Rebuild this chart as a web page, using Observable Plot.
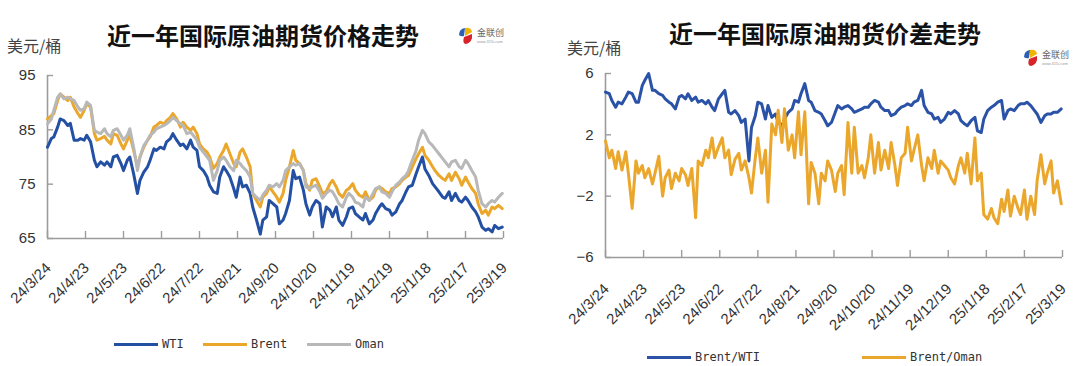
<!DOCTYPE html>
<html><head><meta charset="utf-8">
<script src="https://cdn.jsdelivr.net/npm/d3@7"></script>
<script src="https://cdn.jsdelivr.net/npm/@observablehq/plot@0.6"></script>
<style>
body{margin:0;background:#fff;width:1080px;height:366px;overflow:hidden;position:relative;font-family:"Noto Sans CJK SC",sans-serif;}
.abs{position:absolute;}
.title{position:absolute;font-size:24px;line-height:24px;font-weight:700;color:#111;white-space:nowrap;transform:translateX(-50%);}
.unit{position:absolute;font-size:16px;line-height:18px;color:#444;white-space:nowrap;}
.leg{position:absolute;font-family:"DejaVu Sans Mono",monospace;font-size:12px;line-height:14px;color:#333;display:flex;align-items:center;white-space:nowrap;}
.sw{display:inline-block;width:44px;height:3px;margin-right:4px;}
.logo{position:absolute;}
</style>
</head><body>
<div id="root"></div>
<script>
// ---------- data ----------
const dates = ["2024-03-24","2024-03-27","2024-03-29","2024-04-01","2024-04-03","2024-04-06","2024-04-09","2024-04-11","2024-04-14","2024-04-17",
"2024-04-19","2024-04-22","2024-04-24","2024-04-27","2024-04-30","2024-05-02","2024-05-05","2024-05-08","2024-05-10","2024-05-13",
"2024-05-15","2024-05-18","2024-05-21","2024-05-23","2024-05-26","2024-05-28","2024-05-31","2024-06-03","2024-06-05","2024-06-08",
"2024-06-11","2024-06-13","2024-06-16","2024-06-18","2024-06-21","2024-06-24","2024-06-26","2024-06-29","2024-07-01","2024-07-04",
"2024-07-07","2024-07-09","2024-07-12","2024-07-15","2024-07-17","2024-07-20","2024-07-22","2024-07-25","2024-07-28","2024-07-30",
"2024-08-02","2024-08-05","2024-08-07","2024-08-10","2024-08-12","2024-08-15","2024-08-18","2024-08-20","2024-08-23","2024-08-25",
"2024-08-28","2024-08-31","2024-09-02","2024-09-05","2024-09-08","2024-09-10","2024-09-13","2024-09-15","2024-09-18","2024-09-21",
"2024-09-23","2024-09-26","2024-09-28","2024-10-01","2024-10-04","2024-10-06","2024-10-09","2024-10-12","2024-10-14","2024-10-17",
"2024-10-19","2024-10-22","2024-10-25","2024-10-27","2024-10-30","2024-11-02","2024-11-04","2024-11-07","2024-11-09","2024-11-12",
"2024-11-15","2024-11-17","2024-11-20","2024-11-22","2024-11-25","2024-11-28","2024-11-30","2024-12-03","2024-12-06","2024-12-08",
"2024-12-11","2024-12-13","2024-12-16","2024-12-19","2024-12-21","2024-12-24","2024-12-27","2024-12-29","2025-01-01","2025-01-03",
"2025-01-06","2025-01-09","2025-01-11","2025-01-14","2025-01-16","2025-01-19","2025-01-22","2025-01-24","2025-01-27","2025-01-30",
"2025-02-01","2025-02-04","2025-02-06","2025-02-09","2025-02-12","2025-02-14","2025-02-17","2025-02-19","2025-02-22","2025-02-25",
"2025-02-27","2025-03-02","2025-03-05","2025-03-07","2025-03-10","2025-03-12","2025-03-15","2025-03-18"];

const wti = [81.8,83.4,83.7,85.5,87.0,86.7,85.8,86.2,83.1,83.1,83.4,83.1,84.0,82.8,79.4,78.2,79.1,78.5,79.1,78.2,
80.0,80.3,78.8,77.5,79.4,80.0,76.9,73.3,75.7,77.2,78.2,79.4,81.5,81.2,81.8,81.5,82.8,83.4,84.3,83.1,
82.1,82.4,81.5,83.1,81.8,81.2,78.2,77.5,76.3,74.8,73.6,73.3,76.3,78.2,77.5,76.3,74.2,72.6,76.3,74.5,
74.8,73.3,70.8,68.4,65.8,68.4,69.0,
72.0,71.4,70.8,67.7,68.4,69.6,72.0,77.5,76.0,76.3,73.9,71.4,69.3,70.8,72.0,71.4,67.1,70.8,70.2,69.0,
70.8,68.4,67.4,69.0,70.5,70.8,69.6,69.0,68.4,69.6,67.7,68.4,69.6,70.8,71.4,70.5,70.2,69.3,69.9,71.4,
72.0,73.6,74.5,74.8,76.9,78.2,80.0,77.8,76.6,75.1,74.5,73.6,72.6,72.4,73.6,72.0,73.3,72.0,71.7,72.6,
72.0,70.8,69.9,69.0,67.1,66.5,66.8,66.2,67.4,66.8,67.1];

const brent = [87.0,87.6,88.0,90.4,91.6,91.0,90.4,91.0,89.2,88.0,87.3,88.6,89.8,89.2,84.3,83.1,83.4,83.8,83.1,82.4,
84.3,84.0,82.4,81.5,83.1,84.0,81.2,78.2,80.0,81.8,83.1,83.7,85.5,85.8,86.4,86.1,86.7,87.3,88.0,87.0,
85.5,86.4,85.5,84.9,85.5,84.3,82.4,81.5,80.9,80.0,77.9,78.8,80.0,81.2,82.4,80.6,78.8,78.2,80.9,81.5,
80.0,78.2,73.3,72.0,70.8,72.6,73.3,
74.5,73.6,72.6,71.7,73.3,75.7,78.2,81.2,79.4,78.8,77.5,75.1,73.9,75.7,76.0,74.5,73.3,73.6,75.1,75.7,
74.5,73.3,72.6,73.9,74.2,75.1,73.9,73.0,72.6,73.6,72.0,72.6,73.9,74.5,74.2,73.6,73.3,74.2,74.5,75.1,
75.7,76.3,76.6,78.2,79.7,80.6,81.8,80.3,79.4,78.2,77.5,76.6,76.0,75.7,76.9,75.7,77.2,76.0,74.8,76.3,
75.4,74.2,73.3,71.4,69.6,70.2,69.3,70.8,70.5,71.1,70.5];

const oman = [86.1,87.0,88.6,91.0,91.6,90.7,91.0,90.7,90.4,89.2,88.6,88.9,90.1,89.5,84.9,84.6,84.3,85.2,84.3,83.7,
84.9,85.2,84.0,83.1,84.0,85.2,81.8,77.5,80.0,82.1,83.1,84.0,84.6,85.2,85.5,85.8,86.1,86.7,87.3,86.7,
86.1,85.8,84.3,84.6,84.0,83.1,81.8,80.9,80.0,79.4,75.7,77.5,79.4,80.0,79.4,78.2,77.5,79.4,78.8,78.2,
77.5,76.3,73.3,72.6,72.0,73.0,73.9,
74.8,74.5,75.1,74.5,75.7,77.5,78.2,78.8,78.5,78.8,77.5,74.5,74.2,74.5,74.8,73.6,72.4,73.3,73.9,73.6,
72.4,71.4,70.8,72.6,73.3,72.6,71.7,71.4,70.8,72.6,72.0,73.3,74.2,74.5,73.6,73.3,72.6,73.6,74.8,75.4,
76.0,76.6,77.5,79.4,81.2,83.1,84.9,84.3,82.8,82.1,81.5,80.6,79.7,79.1,78.2,79.1,79.4,78.2,77.9,79.4,
78.8,77.5,76.3,73.9,71.4,70.8,71.4,72.0,71.7,72.6,73.3];

const brentWti = [4.79,4.68,4.24,3.80,4.13,4.02,4.46,4.79,4.68,4.13,4.13,5.23,5.56,6.00,4.90,4.90,4.68,4.57,4.35,4.13,
4.02,3.69,4.46,4.57,4.35,4.68,4.24,4.46,4.13,4.24,4.02,4.24,3.80,3.58,4.35,4.68,4.90,3.47,3.36,3.58,
3.25,2.81,3.03,0.30,2.48,3.25,4.13,4.02,3.03,3.91,3.14,3.36,2.81,2.59,3.03,3.47,3.69,4.24,4.13,4.68,
5.34,4.24,4.13,3.58,
3.47,3.36,2.92,2.59,2.81,3.47,3.91,3.69,3.80,3.91,3.69,3.47,3.58,3.69,3.80,3.80,4.02,4.24,4.13,3.80,
3.58,3.58,3.25,3.36,3.58,3.80,3.91,4.02,3.91,4.13,4.24,4.90,3.91,3.47,3.36,3.03,3.14,2.81,3.03,3.47,
3.36,3.58,3.36,2.92,2.70,2.59,2.92,3.14,2.26,2.15,3.03,3.58,3.80,3.91,4.13,4.24,3.03,3.58,3.69,3.58,
3.91,4.02,4.02,4.13,3.91,3.58,3.36,2.81,3.25,3.36,3.36,3.47,3.47,3.69];

const brentOman = [1.6,0.5,1.0,-0.2,0.9,-0.3,0.9,-0.5,-2.8,0.3,-0.5,0.0,-0.8,-0.2,-1.2,-0.5,0.6,-2.0,-0.8,-0.3,
-1.5,-0.5,-1.0,-0.2,-0.6,-1.3,-0.2,-3.4,0.3,0.0,1.0,0.5,1.8,0.5,1.2,1.8,0.5,1.0,-0.6,0.4,
0.8,-0.3,0.3,-0.8,-1.8,0.5,1.8,-0.5,1.0,-2.4,2.7,2.0,3.6,1.5,3.7,1.0,2.0,0.5,3.5,0.7,
3.5,-2.5,0.2,-0.5,
-2.5,-0.5,-1.0,0.3,-0.3,-1.7,-0.5,0.0,-1.9,2.8,-0.5,2.5,-0.5,0.0,-0.8,0.5,2.0,-0.5,1.5,-0.3,
1.0,-0.2,1.5,0.0,-1.3,0.5,0.8,2.5,0.3,1.0,2.0,0.0,-1.0,0.5,-0.2,1.0,-0.5,0.3,0.0,-0.3,
-0.8,-1.2,0.0,0.5,-0.5,0.8,-1.2,1.8,-1.0,-0.5,-3.2,-3.5,-2.8,-3.4,-3.8,-2.2,-3.0,-1.6,-3.3,-2.0,
-2.8,-3.2,-1.6,-3.5,-2.0,-3.2,-1.0,0.7,-1.2,-0.5,0.3,-1.8,-1.0,-2.5];

const tickDates = ["2024-03-24","2024-04-23","2024-05-23","2024-06-22","2024-07-22","2024-08-21","2024-09-20",
"2024-10-20","2024-11-19","2024-12-19","2025-01-18","2025-02-17","2025-03-19"];
const tickLabels = ["24/3/24","24/4/23","24/5/23","24/6/22","24/7/22","24/8/21","24/9/20",
"24/10/20","24/11/19","24/12/19","25/1/18","25/2/17","25/3/19"];
const priceTicks = [65,75,85,95];
const spreadTicks = [-6,-2,2,6];
const priceSeries = ["WTI","Brent","Oman"];
const spreadSeries = ["Brent/WTI","Brent/Oman"];
const titles = ["近一年国际原油期货价格走势","近一年国际原油期货价差走势"];
const unitText = "美元/桶";

// ---------- helpers ----------
const parse = d3.utcParse("%Y-%m-%d");
const X = dates.map(parse);
const TX = tickDates.map(parse);
const table = (vals) => vals.map((v,i)=>({date:X[i], value:v}));
const AX = "#9c9c9c";

function chart({series, colors, yDomain, yTicks, ml, mr, mt, mb, ldy}) {
  const W = 540, H = 330;
  const iw = W - ml - mr, ih = H - mt - mb;
  const marks = [
    Plot.ruleY([yDomain[0]], {stroke:AX, strokeWidth:1.6}),
    Plot.ruleX([TX[0]], {stroke:AX, strokeWidth:1.6}),
    Plot.ruleX(TX, {stroke:AX, strokeWidth:1.4, insetTop: ih - 7}),
    Plot.ruleY(yTicks, {stroke:AX, strokeWidth:1.4, insetRight: iw - 6}),
    Plot.axisY({ticks:yTicks, tickSize:0, tickPadding:12, fontSize:15, label:null}),
    Plot.text(TX, {x:d=>d, frameAnchor:"bottom", text:(d,i)=>tickLabels[i], rotate:-45, textAnchor:"end", lineAnchor:"middle", dy:ldy, dx:1, fontSize:15, fill:"#333"})
  ];
  series.forEach((s,k)=>{
    marks.push(Plot.lineY(table(s), {x:"date", y:"value", stroke:colors[k], strokeWidth:3, strokeLinejoin:"round", strokeLinecap:"round"}));
  });
  const svg = Plot.plot({
    width:W, height:H, marginLeft:ml, marginRight:mr, marginTop:mt, marginBottom:mb,
    x:{type:"utc", domain:[TX[0], TX[TX.length-1]], axis:null},
    y:{domain:yDomain, axis:null},
    style:{fontFamily:"'Liberation Sans', Arial, sans-serif", color:"#333", background:"transparent", overflow:"visible"},
    marks
  });
  svg.style.position = "absolute";
  svg.style.left = "0px";
  svg.style.top = "0px";
  return svg;
}

const root = document.getElementById("root");
function panel(left){ const p = document.createElement("div"); p.className="abs"; p.style.left=left+"px"; p.style.top="0px"; p.style.width="540px"; p.style.height="366px"; root.appendChild(p); return p; }
function el(parent, cls, css, html){ const e=document.createElement("div"); e.className=cls; Object.assign(e.style, css); e.innerHTML=html; parent.appendChild(e); return e; }
function logo(parent, left, top){
  el(parent, "logo", {left:left+"px", top:top+"px"},
  `<svg width="52" height="20" viewBox="0 0 52 20">
    <path d="M2 9 Q2 3 8 2 L7 10 Q4 11 2 9Z" fill="#2d5fb5"/>
    <path d="M8 2 Q14 1 15 6 L8 10Z" fill="#f0b400"/>
    <path d="M7 11 L15 8 Q16 16 9 18 Q5 18 7 11Z" fill="#d8232a"/>
    <text x="20" y="10" font-size="9" fill="#666" font-family="Noto Sans CJK SC">金联创</text>
    <text x="20" y="17" font-size="4" fill="#999" font-family="Liberation Sans">www.315i.com</text>
  </svg>`);
}
function legend(parent, items, colors, xs, y){
  items.forEach((t,k)=>{
    el(parent, "leg", {left:xs[k]+"px", top:(y-7)+"px"}, `<span class="sw" style="background:${colors[k]}"></span>${t}`);
  });
}

// left panel
const pL = panel(0);
el(pL, "title", {left:"263px", top:"23px"}, titles[0]);
el(pL, "unit", {left:"7px", top:"36px"}, unitText);
logo(pL, 457, 26);
const cL = ["#2450a4","#eba72c","#b8b8b8"];
pL.appendChild(chart({series:[wti, brent, oman], colors:cL, yDomain:[65,95], yTicks:priceTicks, ml:47, mr:37, mt:75, mb:92, ldy:27}));
legend(pL, priceSeries, cL, [114, 203, 307], 344);

// right panel
const pR = panel(540);
el(pR, "title", {left:"285px", top:"21px"}, titles[1]);
el(pR, "unit", {left:"27px", top:"38px"}, unitText);
logo(pR, 482, 48);
const cR = ["#2a52a6","#eba72c"];
pR.appendChild(chart({series:[brentWti, brentOman], colors:cR, yDomain:[-6,6], yTicks:spreadTicks, ml:65, mr:18, mt:73, mb:73, ldy:29}));
legend(pR, spreadSeries, cR, [107, 322], 357);
</script>
</body></html>
